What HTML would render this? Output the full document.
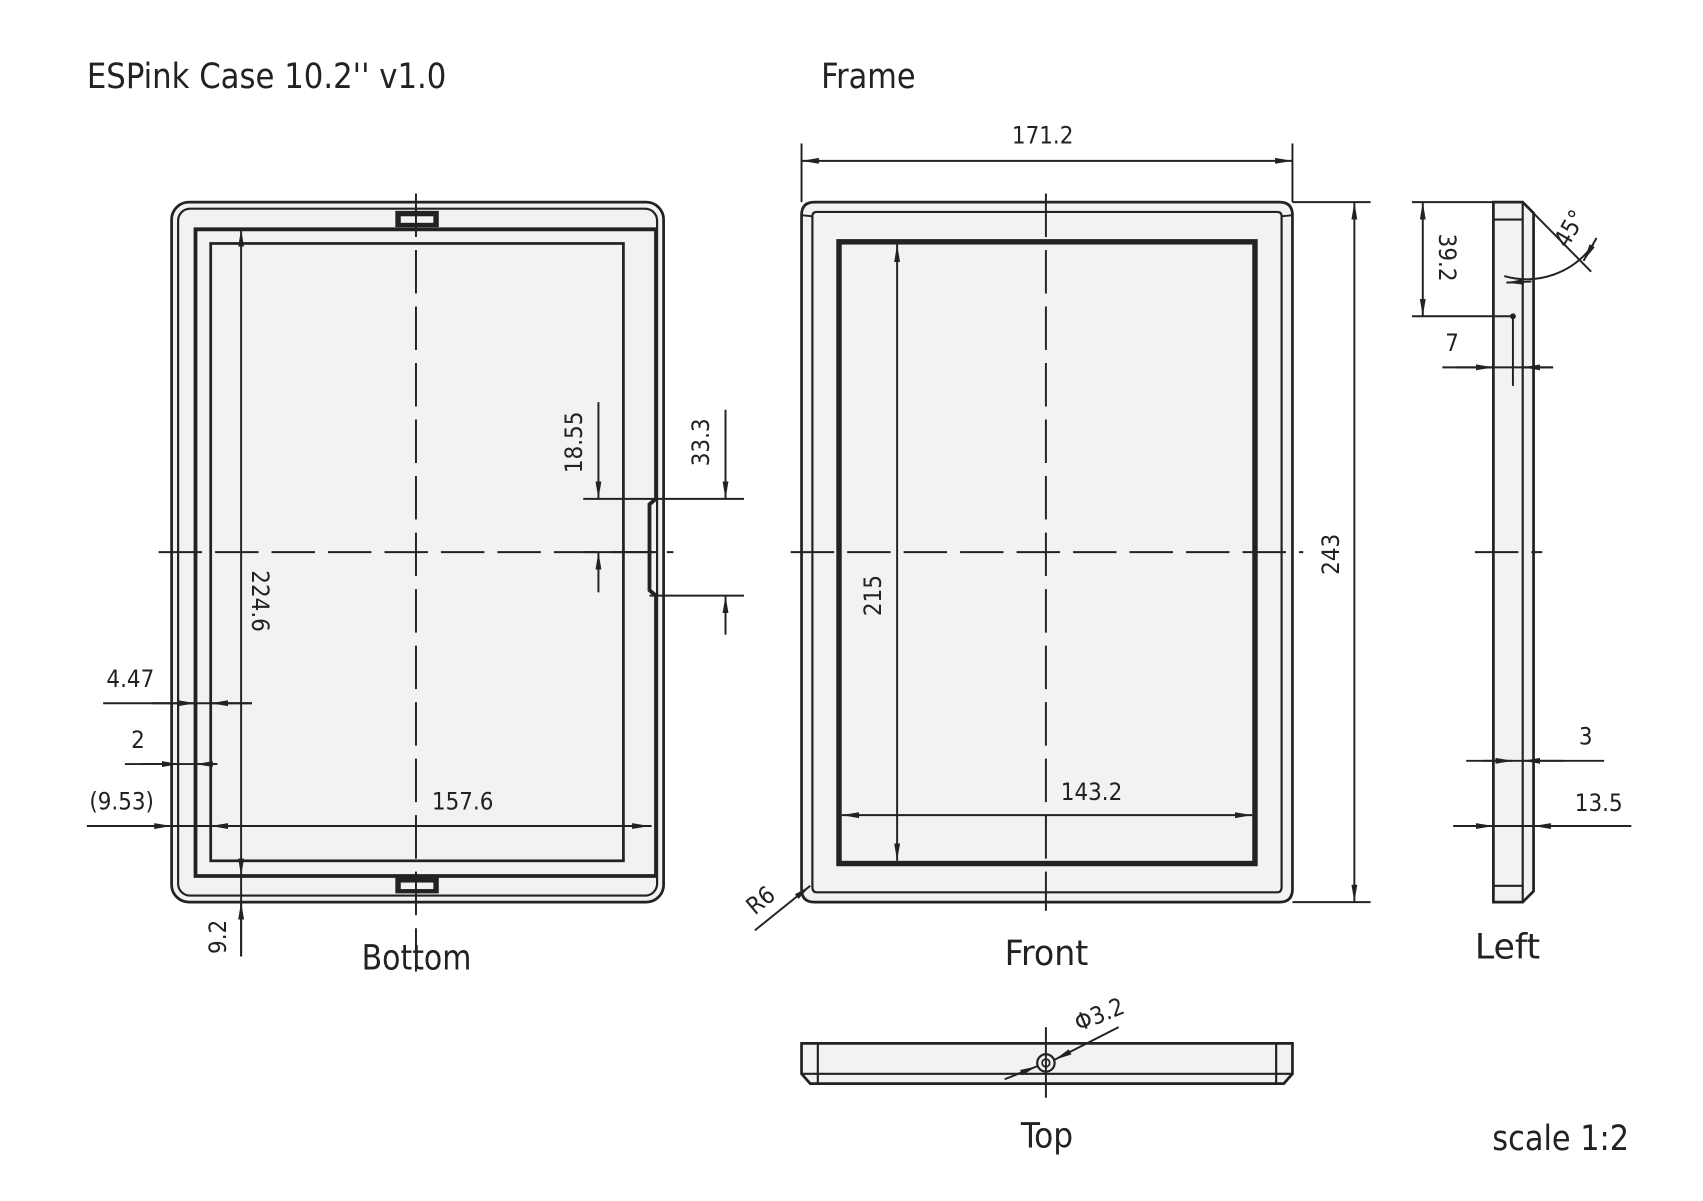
<!DOCTYPE html>
<html><head><meta charset="utf-8">
<style>
html,body{margin:0;padding:0;background:#fff;}
svg{display:block;}
text{font-family:"DejaVu Sans Condensed","DejaVu Sans","Liberation Sans",sans-serif;font-stretch:condensed;fill:#222;}
</style></head>
<body>
<svg width="1703" height="1201" viewBox="0 0 1568 1105" preserveAspectRatio="none" xmlns="http://www.w3.org/2000/svg">
<defs>
<marker id="a" viewBox="0 0 16 7" refX="16" refY="3.5" markerWidth="16" markerHeight="7" markerUnits="userSpaceOnUse" orient="auto-start-reverse">
<path d="M0,0.8 L16,3.5 L0,6.2 Z" fill="#222"/>
</marker>
</defs>
<g stroke="#222" fill="none" stroke-width="1.8">

<!-- ===== BOTTOM VIEW ===== -->
<rect x="158" y="186" width="453" height="644" rx="16" fill="#f1f2f4" stroke-width="2.5"/>
<rect x="164" y="192" width="441" height="632" rx="11" stroke-width="2"/>
<path d="M180,211 L180,806 L604,806 L604,548 L598,543 L598,464 L604,459 L604,211 Z" stroke-width="3.5" fill="#f1f2f4"/>
<rect x="194" y="224" width="380" height="568" stroke-width="2.5"/>
<rect x="364" y="194" width="40" height="15" fill="#222" stroke="none"/>
<rect x="369" y="199" width="30" height="6" fill="#f1f2f4" stroke="none"/>
<rect x="364" y="807" width="40" height="15" fill="#222" stroke="none"/>
<rect x="369" y="812" width="30" height="6" fill="#f1f2f4" stroke="none"/>
<line x1="383" y1="178" x2="383" y2="895" stroke-dasharray="40,12"/>
<line x1="146" y1="508" x2="620" y2="508" stroke-dasharray="40,12"/>
<line x1="222" y1="211" x2="222" y2="806" marker-start="url(#a)" marker-end="url(#a)"/>
<line x1="222" y1="806" x2="222" y2="880"/>
<line x1="222" y1="880" x2="222" y2="830" marker-end="url(#a)"/>
<line x1="95" y1="647" x2="232" y2="647"/>
<line x1="140" y1="647" x2="180" y2="647" marker-end="url(#a)"/>
<line x1="232" y1="647" x2="194" y2="647" marker-end="url(#a)"/>
<line x1="115" y1="703" x2="200" y2="703"/>
<line x1="130" y1="703" x2="165" y2="703" marker-end="url(#a)"/>
<line x1="200" y1="703" x2="180" y2="703" marker-end="url(#a)"/>
<line x1="80" y1="760" x2="600" y2="760"/>
<line x1="120" y1="760" x2="158" y2="760" marker-end="url(#a)"/>
<line x1="240" y1="760" x2="194" y2="760" marker-end="url(#a)"/>
<line x1="560" y1="760" x2="598" y2="760" marker-end="url(#a)"/>
<line x1="537" y1="459" x2="685" y2="459"/>
<line x1="537" y1="508" x2="605" y2="508"/>
<line x1="598" y1="548" x2="685" y2="548"/>
<line x1="551" y1="370" x2="551" y2="459" marker-end="url(#a)"/>
<line x1="551" y1="545" x2="551" y2="508" marker-end="url(#a)"/>
<line x1="668" y1="377" x2="668" y2="459" marker-end="url(#a)"/>
<line x1="668" y1="584" x2="668" y2="548" marker-end="url(#a)"/>

<!-- ===== FRONT VIEW ===== -->
<path d="M750,186 L1178,186 Q1190,186 1190,198 L1190,818 Q1190,830 1178,830 L750,830 Q738,830 738,818 L738,198 Q738,186 750,186 Z" fill="#f1f2f4" stroke-width="2.5"/>
<path d="M752,195 L1176,195 Q1180,195 1180,199 L1180,816 Q1180,821 1176,821 L752,821 Q748,821 748,816 L748,199 Q748,195 752,195 Z" stroke-width="2"/>
<line x1="738" y1="198" x2="748" y2="199"/>
<line x1="1190" y1="198" x2="1180" y2="199"/>
<rect x="772.5" y="222.5" width="383" height="572" stroke-width="5"/>
<line x1="963" y1="178" x2="963" y2="838" stroke-dasharray="40,12"/>
<line x1="728" y1="508" x2="1200" y2="508" stroke-dasharray="40,12"/>
<line x1="738" y1="132" x2="738" y2="186"/>
<line x1="1190" y1="132" x2="1190" y2="186"/>
<line x1="738" y1="148" x2="1190" y2="148" marker-start="url(#a)" marker-end="url(#a)"/>
<line x1="1190" y1="186" x2="1262" y2="186"/>
<line x1="1190" y1="830" x2="1262" y2="830"/>
<line x1="1247" y1="186" x2="1247" y2="830" marker-start="url(#a)" marker-end="url(#a)"/>
<line x1="826" y1="225" x2="826" y2="792" marker-start="url(#a)" marker-end="url(#a)"/>
<line x1="775" y1="750" x2="1153" y2="750" marker-start="url(#a)" marker-end="url(#a)"/>
<line x1="695" y1="856" x2="746" y2="815" marker-end="url(#a)"/>

<!-- ===== TOP VIEW ===== -->
<path d="M738,960 L1190,960 L1190,988 L1182,997 L746,997 L738,988 Z" fill="#f1f2f4" stroke-width="2.5"/>
<line x1="738" y1="988" x2="1190" y2="988" stroke-width="2"/>
<line x1="753" y1="960" x2="753" y2="997" stroke-width="2"/>
<line x1="1175" y1="960" x2="1175" y2="997" stroke-width="2"/>
<circle cx="963" cy="978" r="8" stroke-width="2"/>
<circle cx="963" cy="978" r="3.5" stroke-width="1.6"/>
<line x1="963" y1="945" x2="963" y2="1010"/>
<line x1="1030" y1="945" x2="971" y2="975" marker-end="url(#a)"/>
<line x1="925" y1="993" x2="955" y2="981" marker-end="url(#a)"/>

<!-- ===== LEFT VIEW ===== -->
<path d="M1375,186 L1402,186 L1412,196 L1412,820 L1402,830 L1375,830 Z" fill="#f1f2f4" stroke-width="2.5"/>
<line x1="1375" y1="202" x2="1402" y2="202" stroke-width="2"/>
<line x1="1375" y1="815" x2="1402" y2="815" stroke-width="2"/>
<line x1="1402" y1="186" x2="1402" y2="830" stroke-width="2"/>
<line x1="1393" y1="291" x2="1393" y2="355"/>
<circle cx="1393" cy="291" r="1.8" fill="#222"/>
<line x1="1358" y1="508" x2="1420" y2="508" stroke-dasharray="40,12"/>
<line x1="1300" y1="186" x2="1375" y2="186"/>
<line x1="1300" y1="291" x2="1393" y2="291"/>
<line x1="1310" y1="186" x2="1310" y2="291" marker-start="url(#a)" marker-end="url(#a)"/>
<line x1="1402" y1="186" x2="1465" y2="250"/>
<path d="M1385,254 A75,75 0 0 0 1467,225"/>
<line x1="1410" y1="259" x2="1387" y2="260" marker-end="url(#a)"/>
<line x1="1470" y1="219" x2="1458" y2="240" marker-end="url(#a)"/>
<line x1="1328" y1="338" x2="1430" y2="338"/>
<line x1="1340" y1="338" x2="1375" y2="338" marker-end="url(#a)"/>
<line x1="1430" y1="338" x2="1402" y2="338" marker-end="url(#a)"/>
<line x1="1365" y1="700" x2="1477" y2="700"/>
<line x1="1350" y1="700" x2="1393" y2="700" marker-end="url(#a)"/>
<line x1="1440" y1="700" x2="1402" y2="700" marker-end="url(#a)"/>
<line x1="1338" y1="760" x2="1502" y2="760"/>
<line x1="1345" y1="760" x2="1375" y2="760" marker-end="url(#a)"/>
<line x1="1450" y1="760" x2="1412" y2="760" marker-end="url(#a)"/>
</g>

<!-- ===== TEXT ===== -->
<text x="80" y="81" font-size="32" textLength="331" lengthAdjust="spacingAndGlyphs">ESPink Case 10.2'' v1.0</text>
<text x="756" y="81" font-size="32" textLength="87" lengthAdjust="spacingAndGlyphs">Frame</text>
<text x="333" y="892" font-size="32" textLength="101" lengthAdjust="spacingAndGlyphs">Bottom</text>
<text x="925" y="888" font-size="32" textLength="77" lengthAdjust="spacingAndGlyphs">Front</text>
<text x="1358" y="882" font-size="32" textLength="60" lengthAdjust="spacingAndGlyphs">Left</text>
<text x="940" y="1056" font-size="32" textLength="48" lengthAdjust="spacingAndGlyphs">Top</text>
<text x="1374" y="1058" font-size="32" textLength="126" lengthAdjust="spacingAndGlyphs">scale 1:2</text>

<g font-size="22">
<text x="960" y="132" text-anchor="middle">171.2</text>
<text x="1005" y="736" text-anchor="middle">143.2</text>
<text x="426" y="745" text-anchor="middle">157.6</text>
<text x="112" y="745" text-anchor="middle">(9.53)</text>
<text x="120" y="632" text-anchor="middle">4.47</text>
<text x="127" y="688" text-anchor="middle">2</text>
<text x="1337" y="323" text-anchor="middle">7</text>
<text x="1460" y="685" text-anchor="middle">3</text>
<text x="1472" y="746" text-anchor="middle">13.5</text>
<text transform="translate(1225,510) rotate(-90)" text-anchor="middle" dy="8">243</text>
<text transform="translate(803,548) rotate(-90)" text-anchor="middle" dy="8">215</text>
<text transform="translate(528,407) rotate(-90)" text-anchor="middle" dy="8">18.55</text>
<text transform="translate(645,407) rotate(-90)" text-anchor="middle" dy="8">33.3</text>
<text transform="translate(200,862) rotate(-90)" text-anchor="middle" dy="8">9.2</text>
<text transform="translate(240,553) rotate(90)" text-anchor="middle" dy="8">224.6</text>
<text transform="translate(1333,237) rotate(90)" text-anchor="middle" dy="8">39.2</text>
<text transform="translate(1445,210) rotate(-60)" text-anchor="middle" dy="8">45°</text>
<text transform="translate(700,828) rotate(-40)" text-anchor="middle" dy="8">R6</text>
<text transform="translate(1012,933) rotate(-22)" text-anchor="middle" dy="8">Φ3.2</text>
</g>
</svg>
</body></html>
